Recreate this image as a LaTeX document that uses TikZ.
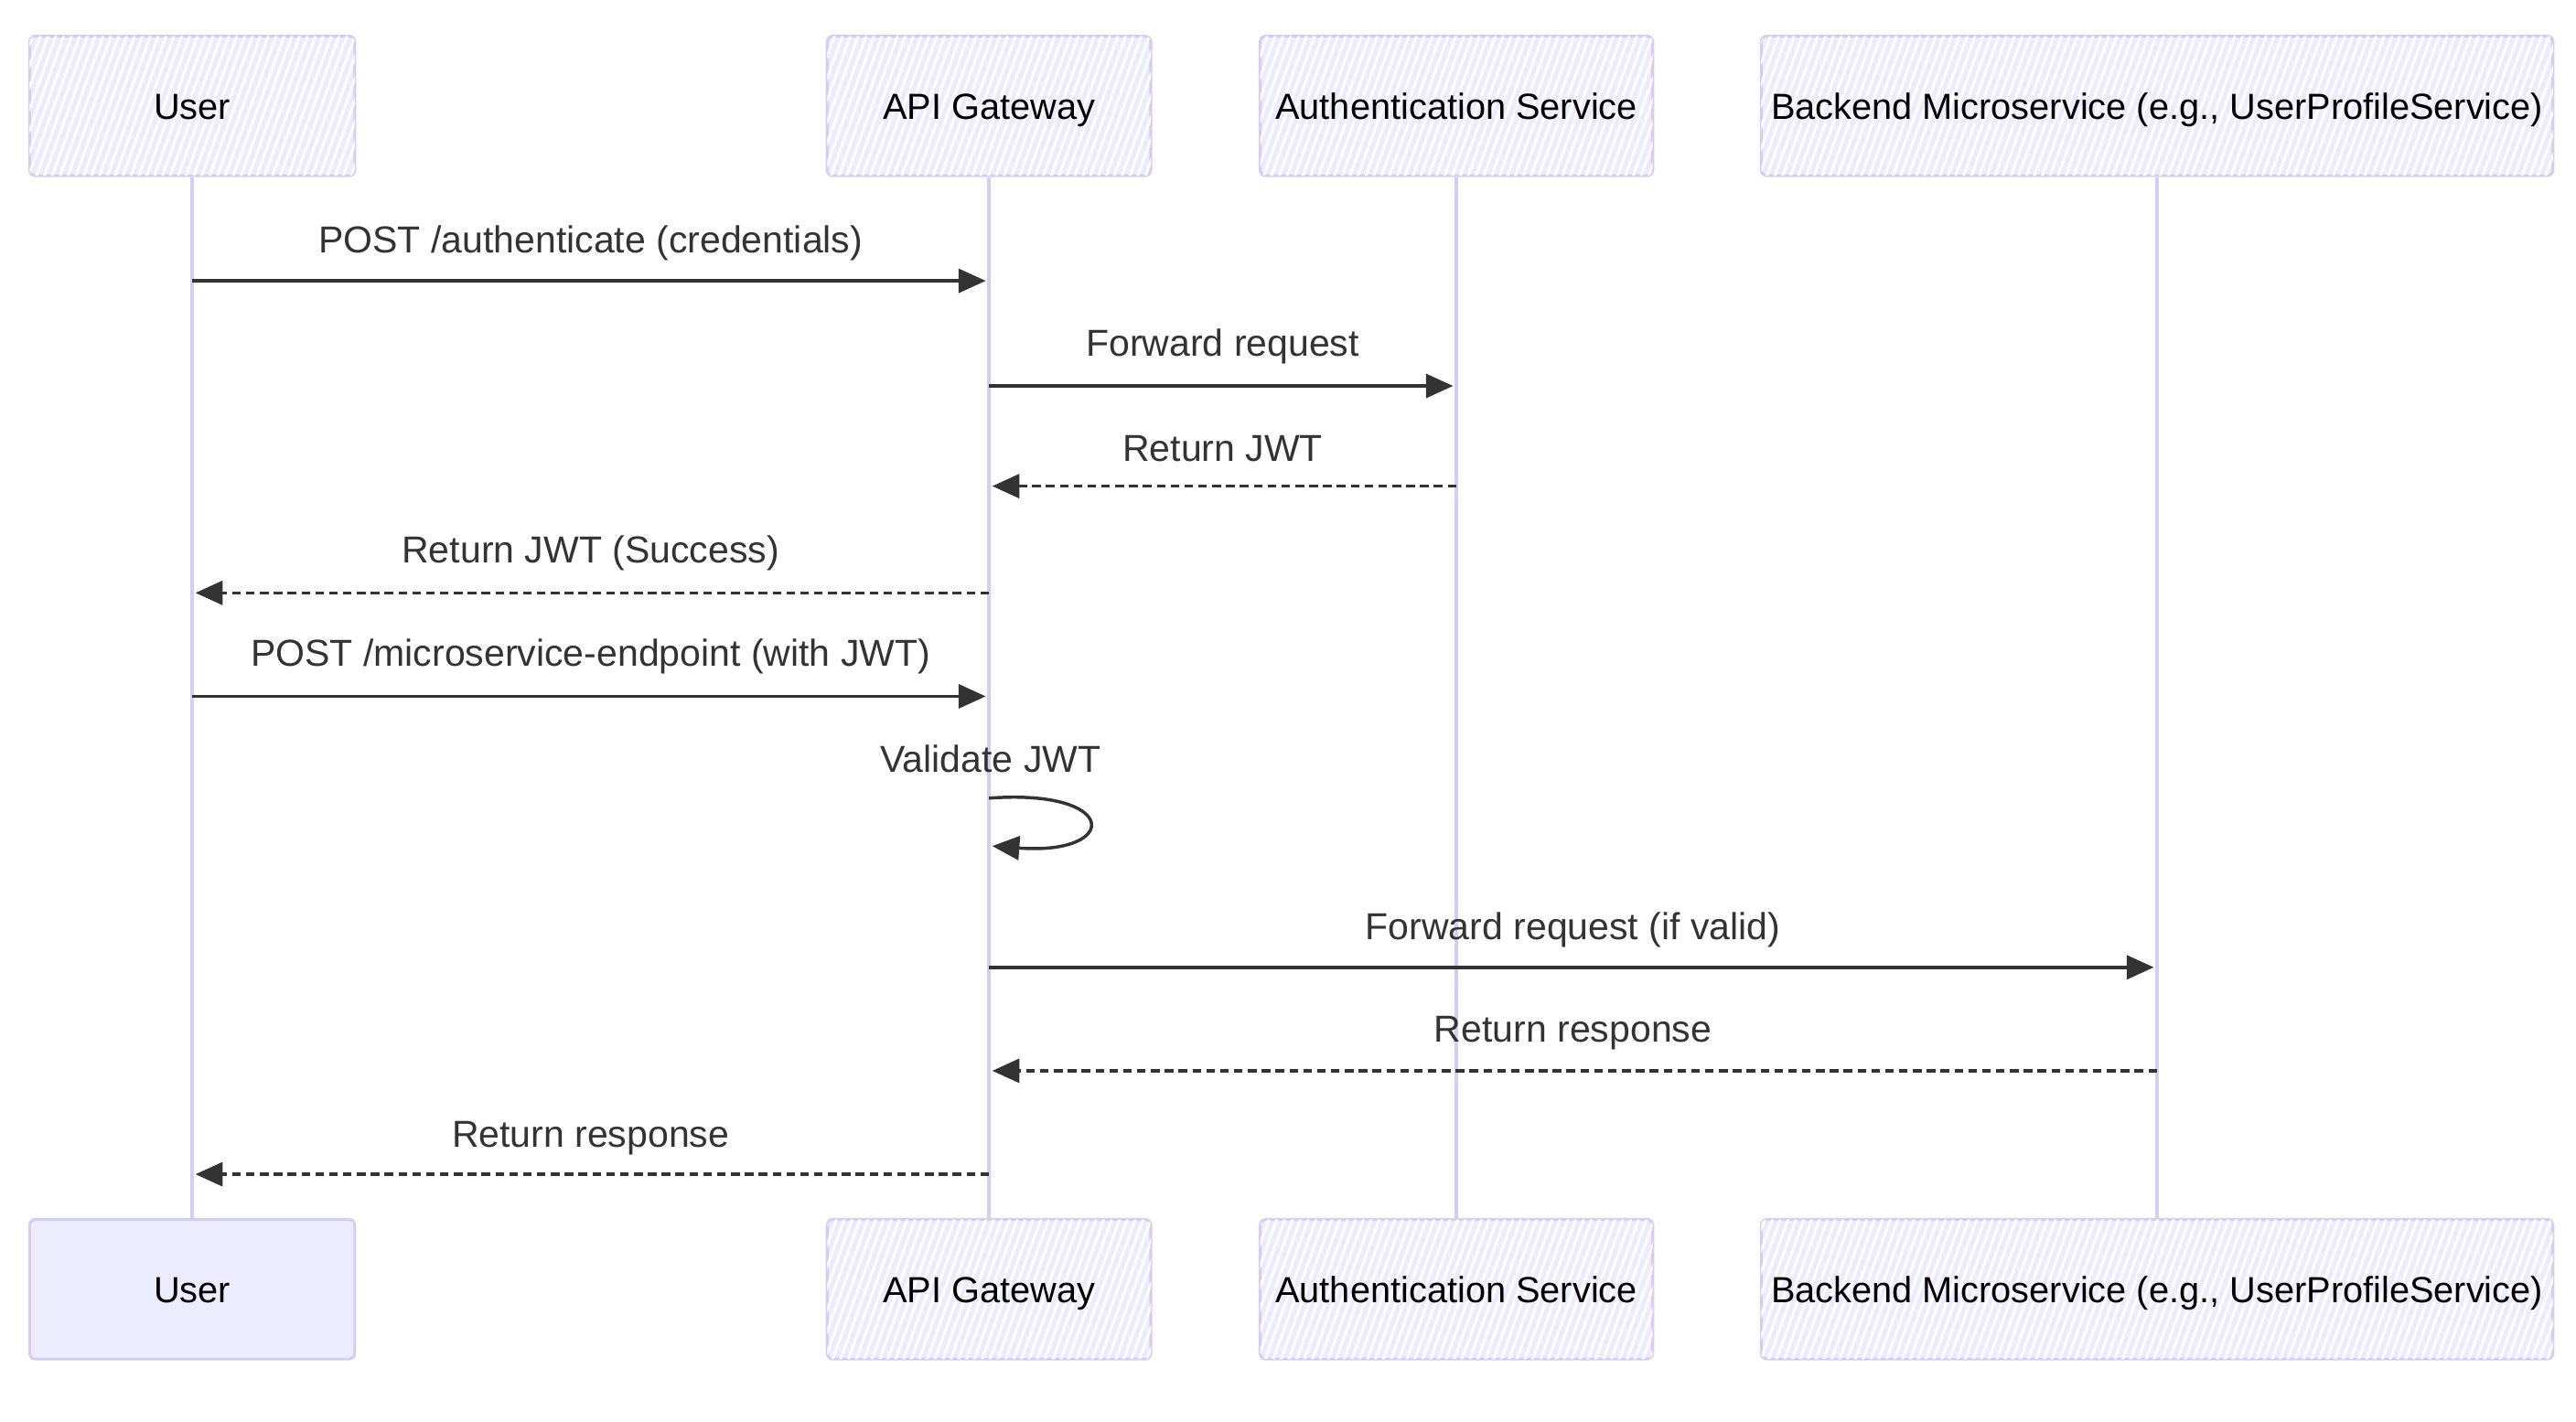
\documentclass[tikz,border=0pt]{standalone}
\usepackage{fontspec}
\setmainfont{Liberation Sans}
\usetikzlibrary{positioning}
\usetikzlibrary{arrows.meta}
\usetikzlibrary{patterns.meta}
\definecolor{actorfill}{HTML}{ECECFF}
\definecolor{actorline}{HTML}{D6CEF2}
\definecolor{msgline}{HTML}{333333}

\begin{document}
\begin{tikzpicture}[x=0.02cm, y=-0.02cm,
		actor/.style={draw=actorline, line width=1pt, fill=actorfill, rounded corners=2pt, minimum height=1.7cm, text height=0.9em, text depth=0pt, font=\fontsize{12.6pt}{15pt}\selectfont, text=black},
		hatched/.style={postaction={pattern={Lines[angle=70, distance=0.09cm, line width=0.9pt]}, pattern color=white}},
		lifeline/.style={draw=actorline, line width=1.3pt},
		msg/.style={draw=msgline, line width=1.1pt, shorten >=0.04cm, -{Triangle[length=0.33cm, width=0.29cm]}},
		reply/.style={msg, dash pattern=on 3pt off 1.8pt},
		msglabel/.style={font=\fontsize{13pt}{15pt}\selectfont, text=msgline}]
			\useasboundingbox (0, 0) rectangle (1568, 865.3);
			% participants, top and bottom
			\node[actor, hatched, minimum width=3.96cm] (usertop) at (117, 64.5) {User};
			\node[actor, hatched, minimum width=3.94cm] (gatewaytop) at (602, 64.5) {API Gateway};
			\node[actor, hatched, minimum width=4.78cm] (authtop) at (886.5, 64.5) {Authentication Service};
			\node[actor, hatched, minimum width=9.64cm] (backendtop) at (1313, 64.5) {Backend Microservice (e.g., UserProfileService)};
			\node[actor, minimum width=3.96cm] (userbot) at (117, 785) {User};
			\node[actor, hatched, minimum width=3.94cm] (gatewaybot) at (602, 785) {API Gateway};
			\node[actor, hatched, minimum width=4.78cm] (authbot) at (886.5, 785) {Authentication Service};
			\node[actor, hatched, minimum width=9.64cm] (backendbot) at (1313, 785) {Backend Microservice (e.g., UserProfileService)};
			% lifelines
			\draw[lifeline] (usertop) -- (userbot);
			\draw[lifeline] (gatewaytop) -- (gatewaybot);
			\draw[lifeline] (authtop) -- (authbot);
			\draw[lifeline] (backendtop) -- (backendbot);
			% message ends on the lifelines
			\coordinate (u1) at (usertop |- 0, 171); \coordinate (g1) at (gatewaytop |- 0, 171);
			\coordinate (g2) at (gatewaytop |- 0, 235); \coordinate (a2) at (authtop |- 0, 235);
			\coordinate (a3) at (authtop |- 0, 296); \coordinate (g3) at (gatewaytop |- 0, 296);
			\coordinate (g4) at (gatewaytop |- 0, 361); \coordinate (u4) at (usertop |- 0, 361);
			\coordinate (u5) at (usertop |- 0, 424); \coordinate (g5) at (gatewaytop |- 0, 424);
			\coordinate (g6) at (gatewaytop |- 0, 486); \coordinate (h6) at (gatewaytop |- 0, 515);
			\coordinate (g7) at (gatewaytop |- 0, 589); \coordinate (b7) at (backendtop |- 0, 589);
			\coordinate (b8) at (backendtop |- 0, 652); \coordinate (g8) at (gatewaytop |- 0, 652);
			\coordinate (g9) at (gatewaytop |- 0, 715); \coordinate (u9) at (usertop |- 0, 715);
			% messages
			\draw[msg] (u1) -- (g1) node[msglabel, midway, yshift=0.46cm] {POST /authenticate (credentials)};
			\draw[msg] (g2) -- (a2) node[msglabel, midway, yshift=0.48cm] {Forward request};
			\draw[reply] (a3) -- (g3) node[msglabel, midway, yshift=0.46cm] {Return JWT};
			\draw[reply] (g4) -- (u4) node[msglabel, midway, yshift=0.48cm] {Return JWT (Success)};
			\draw[msg] (u5) -- (g5) node[msglabel, midway, yshift=0.48cm] {POST /microservice-endpoint (with JWT)};
			\draw[msg] (g6) .. controls (682, 480) and (682, 521) .. (h6);
			\node[msglabel] (validate) at (603, 462) {Validate JWT};
			\draw[msg] (g7) -- (b7) node[msglabel, midway, yshift=0.46cm] {Forward request (if valid)};
			\draw[reply] (b8) -- (g8) node[msglabel, midway, yshift=0.46cm] {Return response};
			\draw[reply] (g9) -- (u9) node[msglabel, midway, yshift=0.44cm] {Return response};
		\end{tikzpicture}
\end{document}
